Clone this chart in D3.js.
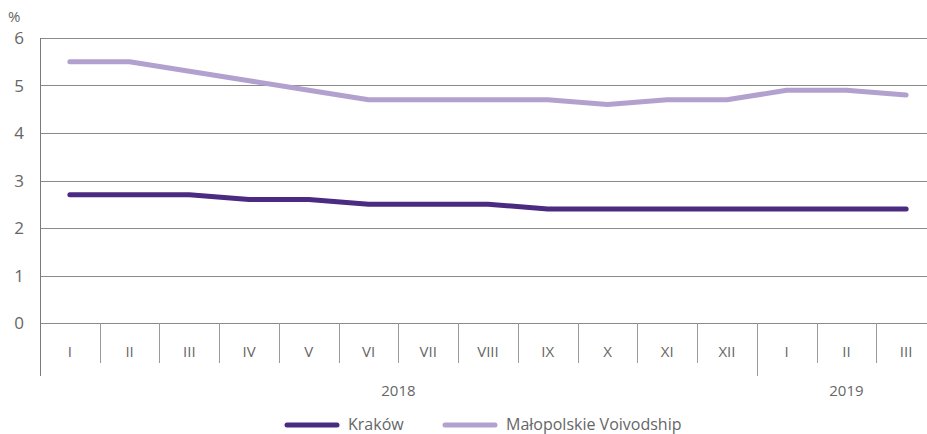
<!DOCTYPE html>
<html>
<head>
<meta charset="utf-8">
<script src="https://cdn.jsdelivr.net/npm/d3@7"></script>
<style>
  body { margin: 0; background: #fff; }
  svg { display: block; font-family: "Open Sans", "Noto Sans", sans-serif; }
</style>
</head>
<body>
<svg width="927" height="434"></svg>
<script>
var months = ["I", "II", "III", "IV", "V", "VI", "VII", "VIII", "IX", "X", "XI", "XII", "I", "II", "III"],
    years = [{label: "2018", from: 0, to: 11}, {label: "2019", from: 12, to: 14}],
    krakow = [2.7, 2.7, 2.7, 2.6, 2.6, 2.5, 2.5, 2.5, 2.4, 2.4, 2.4, 2.4, 2.4, 2.4, 2.4],
    malopolskie = [5.5, 5.5, 5.3, 5.1, 4.9, 4.7, 4.7, 4.7, 4.7, 4.6, 4.7, 4.7, 4.9, 4.9, 4.8],
    yTicks = [0, 1, 2, 3, 4, 5, 6],
    seriesNames = ["Kraków", "Małopolskie Voivodship"];

var svg = d3.select("svg"),
    plot = {left: 40, right: 936, top: 38, bottom: 323},
    colors = ["#4b2a82", "#b2a1cf"],
    textColor = "#666";

var idx = months.map(function(d, i) { return i; });
var x = d3.scaleBand().domain(idx).range([plot.left, plot.right]);
var y = d3.scaleLinear().domain([0, 6]).range([plot.bottom, plot.top]);

// gridlines
svg.append("g").selectAll("line")
    .data(yTicks)
    .enter().append("line")
    .attr("x1", plot.left).attr("x2", plot.right)
    .attr("y1", function(d) { return Math.round(y(d)) + 0.5; })
    .attr("y2", function(d) { return Math.round(y(d)) + 0.5; })
    .style("stroke", "#8a8a8a")
    .style("stroke-width", 1);

// y labels
svg.append("g").selectAll("text")
    .data(yTicks)
    .enter().append("text")
    .attr("x", 24)
    .attr("y", function(d) { return y(d) + 6; })
    .attr("text-anchor", "end")
    .attr("fill", textColor)
    .style("font-size", "17px")
    .text(function(d) { return d; });

svg.append("text")
    .attr("x", 8).attr("y", 22)
    .attr("fill", textColor)
    .style("font-size", "15px")
    .text("%");

// y axis line
svg.append("line")
    .attr("x1", plot.left + 0.5).attr("x2", plot.left + 0.5)
    .attr("y1", plot.top).attr("y2", 376)
    .style("stroke", "#7a7a7a");

// band separators
var yearBreaks = years.slice(1).map(function(d) { return d.from; });
svg.append("g").selectAll("line")
    .data(idx.slice(1))
    .enter().append("line")
    .attr("x1", function(d) { return Math.round(x(d)) + 0.5; })
    .attr("x2", function(d) { return Math.round(x(d)) + 0.5; })
    .attr("y1", plot.bottom)
    .attr("y2", function(d) { return yearBreaks.indexOf(d) >= 0 ? 376 : 363; })
    .style("stroke", "#9a9a9a");

// month labels
svg.append("g").selectAll("text")
    .data(months)
    .enter().append("text")
    .attr("x", function(d, i) { return x(i) + x.bandwidth() / 2; })
    .attr("y", 357)
    .attr("text-anchor", "middle")
    .attr("fill", textColor)
    .style("font-size", "15px")
    .text(function(d) { return d; });

// year labels
svg.append("g").selectAll("text")
    .data(years)
    .enter().append("text")
    .attr("x", function(d) { return (x(d.from) + x(d.to) + x.bandwidth()) / 2; })
    .attr("y", 396)
    .attr("text-anchor", "middle")
    .attr("fill", textColor)
    .style("font-size", "15px")
    .text(function(d) { return d.label; });

// lines
var line = d3.line()
    .x(function(d, i) { return x(i) + x.bandwidth() / 2; })
    .y(function(d) { return y(d); });

[krakow, malopolskie].forEach(function(s, k) {
    svg.append("path")
        .datum(s)
        .attr("d", line)
        .style("fill", "none")
        .style("stroke", colors[k])
        .style("stroke-width", 5)
        .style("stroke-linecap", "round")
        .style("stroke-linejoin", "round");
});

// legend
var legendX = [287, 445];
var legend = svg.append("g").selectAll("g")
    .data(seriesNames)
    .enter().append("g")
    .attr("transform", function(d, i) { return "translate(" + legendX[i] + ",425)"; });

legend.append("line")
    .attr("x1", 0).attr("x2", 50)
    .style("stroke", function(d, i) { return colors[i]; })
    .style("stroke-width", 5)
    .style("stroke-linecap", "round");

legend.append("text")
    .attr("x", 61)
    .attr("y", 5)
    .attr("fill", textColor)
    .style("font-size", "16px")
    .text(function(d) { return d; });
</script>
</body>
</html>
